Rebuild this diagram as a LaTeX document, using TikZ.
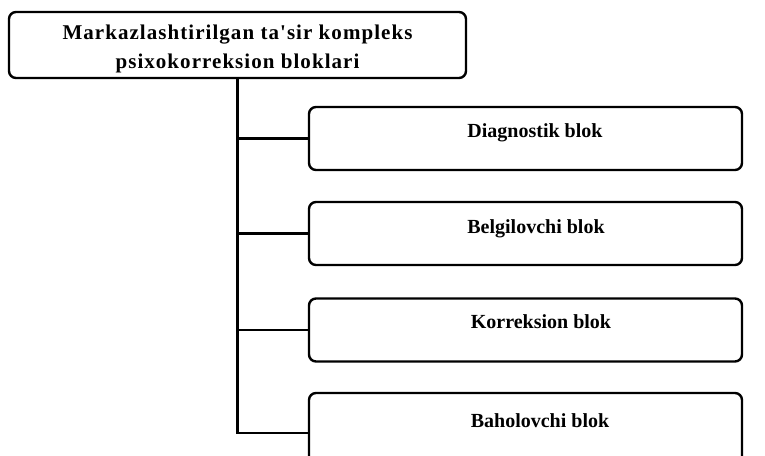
\documentclass[tikz,border=0pt]{standalone}
\usepackage{fontspec}
\setmainfont{Liberation Serif}
\newfontfamily\ttlfont[LetterSpace=5]{Liberation Serif}
\begin{document}
\begin{tikzpicture}[x=1pt,y=-1pt, line width=2.4pt,
  box/.style={draw, rounded corners=7pt, minimum width=433pt, minimum height=63pt, inner sep=0pt},
  lbl/.style={anchor=base, font=\bfseries\fontsize{20}{24}\selectfont},
  titlebox/.style={draw, rounded corners=7pt, minimum width=457pt, minimum height=66pt, inner sep=0pt},
  titletext/.style={align=center, inner sep=0pt, font=\ttlfont\bfseries\fontsize{21}{29}\selectfont},
  conn/.style={draw}]
\useasboundingbox (0,0) rectangle (765,455);
\clip (0,0) rectangle (765,455);
\node[titlebox] (top) at (237.5,45) {};
\node[titletext] (tt) at ([yshift=-3.5pt]top.center) {Markazlashtirilgan ta'sir kompleks\\psixokorreksion bloklari};
\node[box] (b1) at (525.5,138.5) {};
\node[box] (b2) at (525.5,233.5) {};
\node[box] (b3) at (525.5,330) {};
\node[box, minimum height=80pt] (b4) at (525.5,433) {};
\node[lbl] (t1) at (535,137) {Diagnostik blok};
\node[lbl] (t2) at (536,233) {Belgilovchi blok};
\node[lbl] (t3) at (541,328) {Korreksion blok};
\node[lbl] (t4) at (540,427) {Baholovchi blok};
\draw[conn] (top.south) -- (top.south |- b4.west) -- (b4.west);
\draw[conn] (top.south |- b1.west) -- (b1.west);
\draw[conn] (top.south |- b2.west) -- (b2.west);
\draw[conn] (top.south |- b3.west) -- (b3.west);
\end{tikzpicture}
\end{document}
